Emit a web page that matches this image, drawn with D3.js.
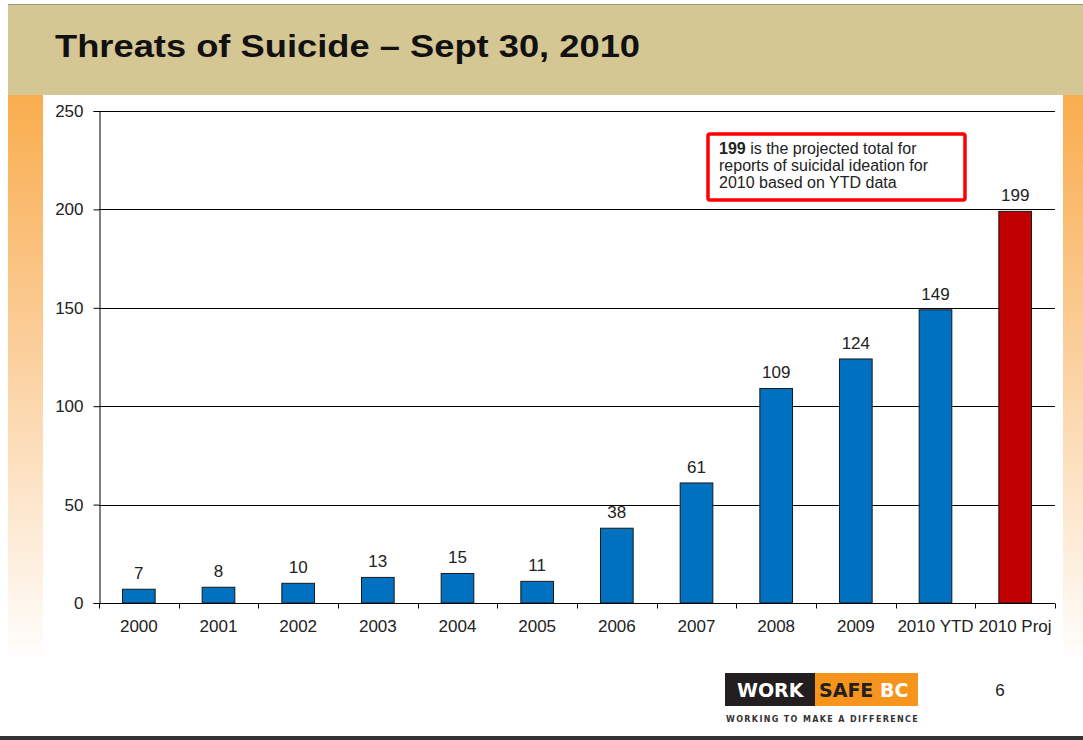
<!DOCTYPE html>
<html>
<head>
<meta charset="utf-8">
<script src="https://cdn.jsdelivr.net/npm/d3@7"></script>
<style>
  body { margin: 0; background: #fff; }
  svg { display: block; font-family: "Liberation Sans", Arial, sans-serif; }
</style>
</head>
<body>
<div id="chart"></div>
<script>
// values
const CATEGORIES = ['2000', '2001', '2002', '2003', '2004', '2005', '2006',
  '2007', '2008', '2009', '2010 YTD', '2010 Proj'];
const COUNTS = [7, 8, 10, 13, 15, 11, 38, 61, 109, 124, 149, 199];
const Y_TICKS = [0, 50, 100, 150, 200, 250];
const NOTE_LINES = ['is the projected total for',
  'reports of suicidal ideation for', '2010 based on YTD data'];

const width = 1083;
const height = 740;
const LABEL_SIZE = 17;

const margins = { left: 99, right: 28, top: 111, bottom: 137 };

const svg = d3.select('#chart')
  .append('svg')
    .attr('width', width)
    .attr('height', height);

const defs = svg.append('defs');
const grad = defs.append('linearGradient')
    .attr('id', 'side')
    .attr('x1', 0).attr('y1', 0).attr('x2', 0).attr('y2', 1);
grad.append('stop').attr('offset', '0%').attr('stop-color', '#f9ad4e');
grad.append('stop').attr('offset', '45%').attr('stop-color', '#fbcf9c');
grad.append('stop').attr('offset', '100%').attr('stop-color', '#ffffff');

// side strips
svg.append('rect')
    .attr('x', 8).attr('y', 95).attr('width', 35).attr('height', 570)
    .attr('fill', 'url(#side)');
svg.append('rect')
    .attr('x', 1063).attr('y', 95).attr('width', 20).attr('height', 570)
    .attr('fill', 'url(#side)');

// header band
svg.append('rect')
    .attr('x', 8).attr('y', 4).attr('width', width - 8).attr('height', 91)
    .attr('fill', '#d5c794');
svg.append('line')
    .attr('x1', 8).attr('x2', width).attr('y1', 4.5).attr('y2', 4.5)
    .attr('stroke', '#9a9378');
svg.append('text')
    .attr('x', 55).attr('y', 57)
    .attr('font-size', 32)
    .attr('font-weight', 'bold')
    .attr('fill', '#111')
    .attr('textLength', 585)
    .attr('lengthAdjust', 'spacingAndGlyphs')
    .text('Threats of Suicide \u2013 Sept 30, 2010');

// white plot backdrop
svg.append('rect')
    .attr('x', 43).attr('y', 95).attr('width', 1020).attr('height', 570)
    .attr('fill', '#fff');

const x = d3.scaleBand()
  .domain(CATEGORIES)
  .range([margins.left, width - margins.right])
  .paddingInner(0.59)
  .paddingOuter(0.295);

const y = d3.scaleLinear()
  .domain([0, 250])
  .range([height - margins.bottom, margins.top]);

// gridlines
svg.append('g')
  .selectAll('line')
  .data(Y_TICKS.filter(d => d > 0))
  .join('line')
    .attr('x1', margins.left)
    .attr('x2', width - margins.right)
    .attr('y1', d => Math.round(y(d)) + 0.5)
    .attr('y2', d => Math.round(y(d)) + 0.5)
    .attr('stroke', '#000')
    .attr('stroke-width', 1);

// bars
svg.append('g')
  .selectAll('rect')
  .data(COUNTS)
  .join('rect')
    .attr('x', (d, i) => x(CATEGORIES[i]))
    .attr('y', d => y(d))
    .attr('width', x.bandwidth())
    .attr('height', d => y(0) - y(d))
    .attr('fill', (d, i) => i === COUNTS.length - 1 ? '#c00000' : '#0070c0')
    .attr('stroke', '#1a1a1a')
    .attr('stroke-width', 1);

// value labels
svg.append('g')
  .selectAll('text')
  .data(COUNTS)
  .join('text')
    .attr('x', (d, i) => x(CATEGORIES[i]) + x.bandwidth() / 2)
    .attr('y', d => y(d) - 10)
    .attr('text-anchor', 'middle')
    .attr('font-size', LABEL_SIZE)
    .attr('fill', '#222')
    .text(d => d);

// y axis
const yAxis = d3.axisLeft(y)
  .tickValues(Y_TICKS)
  .tickSize(6)
  .tickPadding(10);

const yG = svg.append('g')
    .attr('transform', 'translate(' + (margins.left + 0.5) + ',0)')
    .call(yAxis);
yG.select('.domain').attr('stroke', '#000');
yG.selectAll('.tick line').attr('stroke', '#000');
yG.selectAll('.tick text')
    .attr('font-size', LABEL_SIZE)
    .attr('fill', '#222')
    .attr('font-family', '"Liberation Sans", Arial, sans-serif');

// x axis: ticks between categories
const step = x.step();
const xAxis = d3.axisBottom(x)
  .tickSize(0)
  .tickPadding(16);

const xG = svg.append('g')
    .attr('transform', 'translate(0,' + (Math.round(y(0)) + 0.5) + ')')
    .call(xAxis);
xG.select('.domain').remove();
xG.append('line')
    .attr('x1', margins.left).attr('x2', width - margins.right)
    .attr('stroke', '#000');
xG.selectAll('.tick text')
    .attr('font-size', LABEL_SIZE)
    .attr('fill', '#222')
    .attr('font-family', '"Liberation Sans", Arial, sans-serif');

const boundaries = d3.range(CATEGORIES.length + 1)
  .map(i => margins.left + i * step);
xG.selectAll('line.sep')
  .data(boundaries)
  .join('line')
    .attr('class', 'sep')
    .attr('x1', d => Math.round(d) + 0.5)
    .attr('x2', d => Math.round(d) + 0.5)
    .attr('y1', 0)
    .attr('y2', 5)
    .attr('stroke', '#000');

// annotation box
const note = svg.append('g');
note.append('rect')
    .attr('x', 708).attr('y', 134).attr('width', 257).attr('height', 66)
    .attr('rx', 2)
    .attr('fill', '#fff')
    .attr('stroke', '#ff0000')
    .attr('stroke-width', 3.5);
const noteText = note.append('text')
    .attr('x', 719)
    .attr('font-size', 16)
    .attr('fill', '#222');
noteText.append('tspan')
    .attr('x', 719).attr('y', 154)
    .attr('font-weight', 'bold')
    .text('199');
noteText.append('tspan')
    .text(' ' + NOTE_LINES[0]);
NOTE_LINES.slice(1).forEach((line, i) => {
  noteText.append('tspan')
      .attr('x', 719)
      .attr('y', 171 + i * 17)
      .text(line);
});

// logo
const logo = svg.append('g');
logo.append('rect')
    .attr('x', 725).attr('y', 673).attr('width', 90).attr('height', 33)
    .attr('fill', '#231f20');
logo.append('rect')
    .attr('x', 815).attr('y', 673).attr('width', 103).attr('height', 33)
    .attr('fill', '#f7941d');
logo.append('text')
    .attr('x', 737).attr('y', 697)
    .attr('font-size', 19).attr('font-weight', 'bold')
    .attr('font-family', '"DejaVu Sans", sans-serif')
    .attr('fill', '#fff')
    .text('WORK');
logo.append('text')
    .attr('x', 819).attr('y', 697)
    .attr('font-size', 19).attr('font-weight', 'bold')
    .attr('font-family', '"DejaVu Sans", sans-serif')
    .attr('fill', '#231f20')
    .text('SAFE');
logo.append('text')
    .attr('x', 880).attr('y', 697)
    .attr('font-size', 19).attr('font-weight', 'bold')
    .attr('font-family', '"DejaVu Sans", sans-serif')
    .attr('fill', '#fff')
    .text('BC');
logo.append('text')
    .attr('x', 726).attr('y', 722)
    .attr('font-size', 8)
    .attr('letter-spacing', 1.35)
    .attr('font-weight', 'bold')
    .attr('font-family', '"DejaVu Sans", sans-serif')
    .attr('fill', '#333')
    .text('WORKING TO MAKE A DIFFERENCE');

svg.append('text')
    .attr('x', 1000).attr('y', 696)
    .attr('text-anchor', 'middle')
    .attr('font-size', 17)
    .attr('fill', '#222')
    .text('6');

svg.append('rect')
    .attr('x', 0).attr('y', 736).attr('width', width).attr('height', 4)
    .attr('fill', '#333');
</script>
</body>
</html>
